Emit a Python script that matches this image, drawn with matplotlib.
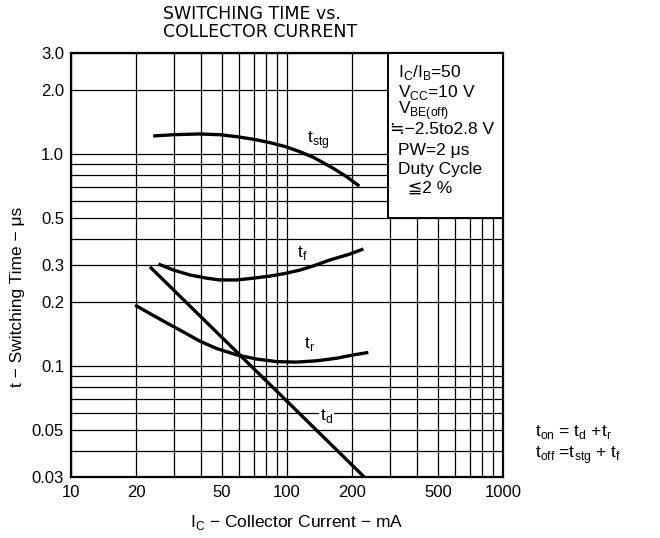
import numpy as np
import matplotlib
matplotlib.use('Agg')
import matplotlib.pyplot as plt
from matplotlib.patches import Rectangle
from matplotlib.ticker import FixedLocator, NullFormatter

plt.rcParams['font.family'] = ['Liberation Sans', 'DejaVu Sans']
plt.rcParams['mathtext.fontset'] = 'custom'
plt.rcParams['mathtext.rm'] = 'Liberation Sans'

# curve data (Ic in mA, t in us)
tstg_ic = [24.0, 29.8, 39.1, 48.9, 58.5, 69.8, 83.4, 98.6, 114.9, 132.4, 163.8, 189, 216]
tstg_t = [1.218, 1.235, 1.245, 1.235, 1.209, 1.176, 1.133, 1.084, 1.026, 0.966, 0.857, 0.782, 0.707]

tf_ic = [25.4, 29.8, 35.6, 42.5, 48.9, 58.5, 69.8, 83.4, 98.6, 114.9, 132.4, 158.2, 195.7, 225.6]
tf_t = [0.303, 0.284, 0.269, 0.260, 0.255, 0.255, 0.260, 0.266, 0.274, 0.284, 0.297, 0.317, 0.338, 0.357]

tr_ic = [19.8, 23.2, 27.7, 33.1, 39.6, 47.3, 58.5, 72.4, 89.6, 110.9, 137.3, 169.9, 202.8, 237.9]
tr_t = [0.194, 0.177, 0.160, 0.145, 0.131, 0.121, 0.113, 0.108, 0.105, 0.1045, 0.106, 0.109, 0.113, 0.116]

td_ic = [23.2, 230]
td_t = [0.294, 0.0297]

xticks = [10, 20, 50, 100, 200, 500, 1000]
xlabels = ['10', '20', '50', '100', '200', '500', '1000']
yticks = [0.03, 0.05, 0.1, 0.2, 0.3, 0.5, 1.0, 2.0, 3.0]
ylabels = ['0.03', '0.05', '0.1', '0.2', '0.3', '0.5', '1.0', '2.0', '3.0']
xgrid = [10, 20, 30, 40, 50, 60, 70, 80, 90, 100, 200, 300, 400, 500, 600, 700, 800, 900, 1000]
ygrid = [0.03, 0.04, 0.05, 0.06, 0.07, 0.08, 0.09, 0.1, 0.2, 0.3, 0.4, 0.5, 0.6, 0.7, 0.8, 0.9, 1.0, 2.0, 3.0]

box_lines = [r'I$_\mathregular{C}$/I$_\mathregular{B}$=50',
             r'V$_\mathregular{CC}$=10 V',
             r'V$_\mathregular{BE(off)}$',
             '≒−2.5to2.8 V',
             'PW=2 μs',
             'Duty Cycle',
             '  ≦2 %']

fig = plt.figure(figsize=(6.6, 5.38), dpi=100)
ax = fig.add_axes([0.1076, 0.1134, 0.6546, 0.7881])
ax.set_xscale('log')
ax.set_yscale('log')
ax.set_xlim(10, 1000)
ax.set_ylim(0.03, 3.0)

ax.xaxis.set_major_locator(FixedLocator(xticks))
ax.set_xticklabels(xlabels)
ax.xaxis.set_minor_locator(FixedLocator(xgrid))
ax.xaxis.set_minor_formatter(NullFormatter())
ax.yaxis.set_major_locator(FixedLocator(yticks))
ax.set_yticklabels(ylabels)
ax.yaxis.set_minor_locator(FixedLocator(ygrid))
ax.yaxis.set_minor_formatter(NullFormatter())
ax.tick_params(which='both', length=0, labelsize=12, colors='black')
ax.tick_params(axis='x', pad=6)
ax.tick_params(axis='y', pad=5)
ax.grid(which='both', color='black', lw=0.9)
for s in ax.spines.values():
    s.set_linewidth(1.6)

# curves
for xs, ys in [(tstg_ic, tstg_t), (tf_ic, tf_t), (tr_ic, tr_t), (td_ic, td_t)]:
    ax.plot(xs, ys, color='black', lw=2.4, solid_capstyle='butt',
            solid_joinstyle='round', zorder=4)

# curve labels
ax.text(124, 1.17, r't$_\mathregular{stg}$', fontsize=12.5, va='center', zorder=5)
ax.text(111, 0.341, r't$_\mathregular{f}$', fontsize=12.5, va='center', zorder=5)
ax.text(120, 0.127, r't$_\mathregular{r}$', fontsize=12.5, va='center', zorder=5)
ax.text(142, 0.0583, r't$_\mathregular{d}$', fontsize=12.5, va='center', zorder=5,
        bbox=dict(facecolor='white', edgecolor='none', pad=1))

# conditions box
ax.add_patch(Rectangle((294, 0.5), 1000 - 294, 2.5, facecolor='white',
                       edgecolor='black', lw=1.4, zorder=3))
box_y = [73, 92, 111, 130, 150, 169, 188]
box_x = [398, 398, 398, 390, 398, 398, 398]
for txt, px, py in zip(box_lines, box_x, box_y):
    fig.text(px / 660, 1 - py / 538, txt, fontsize=12.5, va='center', ha='left')

# titles and labels
fig.text(163 / 660, 1 - 14 / 538, 'SWITCHING TIME vs.', family='DejaVu Sans',
         fontsize=12.5, ha='left', va='center')
fig.text(163 / 660, 1 - 32 / 538, 'COLLECTOR CURRENT', family='DejaVu Sans',
         fontsize=12.5, ha='left', va='center')
fig.text(18 / 660, 1 - 297 / 538, 't − Switching Time − μs', fontsize=12.5,
         rotation=90, ha='center', va='center')
fig.text(297 / 660, 1 - 522 / 538, r'I$_\mathregular{C}$ − Collector Current − mA',
         fontsize=12.5, ha='center', va='center')

fig.text(535 / 660, 1 - 432 / 538,
         r't$_\mathregular{on}$ = t$_\mathregular{d}$ +t$_\mathregular{r}$',
         fontsize=12.5, ha='left', va='center')
fig.text(535 / 660, 1 - 455 / 538,
         r't$_\mathregular{off}$ =t$_\mathregular{stg}$ + t$_\mathregular{f}$',
         fontsize=12.5, ha='left', va='center')

fig.savefig('out.png', dpi=100)
